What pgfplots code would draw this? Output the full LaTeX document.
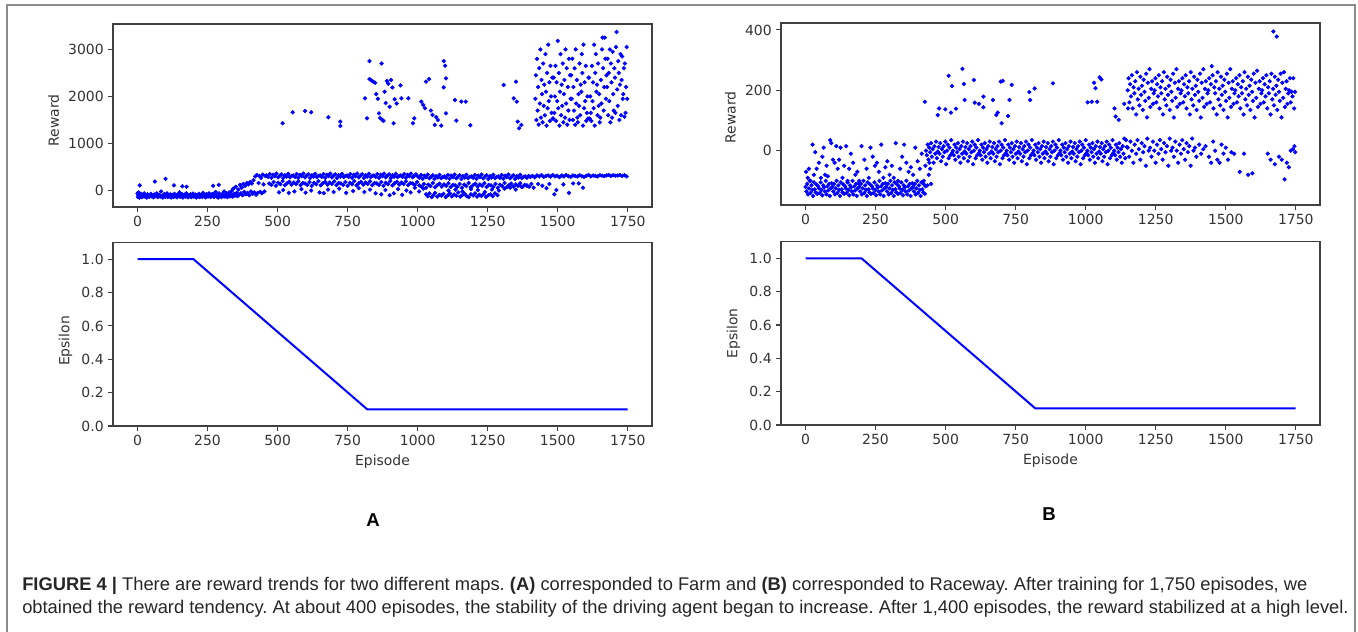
\documentclass[border=0pt]{standalone}
\usepackage{fontspec}
\setmainfont{Liberation Sans}
\newfontfamily\mpl{DejaVu Sans}
\usepackage{pgfplots}
\pgfplotsset{compat=1.18}

\pgfplotsset{
  mplaxis/.style={
    scale only axis, width=404.25bp, anchor=south west,
    axis line style={draw=black!75, line width=0.9bp},
    tick pos=left, tick align=outside, major tick length=3.5bp,
    tick style={draw=black!75, line width=0.8bp},
    /pgf/number format/assume math mode=true,
    /pgf/number format/1000 sep={},
    scaled ticks=false,
    every tick label/.append style={font=\mpl\fontsize{10.5}{12}\selectfont, text=black!80},
    label style={font=\mpl\fontsize{10.5}{12}\selectfont, text=black!80},
    xmin=-87.45, xmax=1836.45,
    xtick={0,250,500,750,1000,1250,1500,1750},
  },
  epsaxis/.style={
    mplaxis, ymin=0, ymax=1.1, ytick={0,0.2,0.4,0.6,0.8,1.0},
    yticklabel style={/pgf/number format/.cd, fixed, fixed zerofill, precision=1},
    xlabel={Episode}, ylabel={Epsilon},
  },
  rew/.style={only marks, mark=*, mark size=1.4bp, color=blue, mark options={draw=none, fill=blue}},
}

\begin{document}
\frenchspacing
\begin{tikzpicture}
\useasboundingbox (0,0) rectangle (1018.5bp,474bp);
\draw[black!45, line width=1bp] (5.25bp,-2bp) -- (5.25bp,470.25bp) -- (1016.25bp,470.25bp) -- (1016.25bp,-2bp);

% ---- A: Farm, reward
\begin{axis}[mplaxis, at={(84.75bp,318.75bp)}, height=137.25bp,
  ymin=-350, ymax=3540, ytick={0,1000,2000,3000}, ylabel={Reward},
  ylabel style={xshift=-3.5bp}]
% early cluster and ramp
\addplot[rew] coordinates {
(0,-60)(2,-140)(3,-100)(4,-40)(5,-120)(6,-80)(7,-150)(8,110)(9,-90)(10,-130)(12,-70)(14,-110)(16,-140)(18,-90)(21,-120)(24,-60)
(27,-130)(30,-100)(33,-150)(36,-80)(39,-115)(42,-135)(45,-95)(48,-70)(51,-125)(54,-105)(57,-145)(60,-85)(62,190)(63,-120)(66,-100)(69,-60)
(72,-140)(75,-110)(78,-90)(81,-130)(84,-20)(87,-120)(90,-150)(93,-95)(96,-75)(99,-135)(100,250)(102,-110)(105,-60)(108,-140)(111,-100)(114,-125)
(117,-80)(120,-150)(123,-110)(126,-90)(129,-135)(130,110)(132,-70)(135,-120)(138,-100)(141,-145)(144,-85)(147,-115)(150,-40)(153,-135)(156,-100)(159,-75)
(160,90)(162,-150)(165,-120)(168,-90)(171,-130)(174,-60)(175,80)(177,-110)(180,-145)(183,-95)(186,-120)(189,-80)(192,-140)(195,-105)(198,-65)(201,-130)
(204,-115)(207,-85)(210,-150)(213,-100)(216,-125)(219,-70)(222,-140)(225,-110)(228,-90)(231,-135)(234,-50)(237,-120)(240,-100)(243,-145)(246,-80)(249,-115)
(252,-130)(255,-60)(258,-100)(261,-140)(264,-85)(267,-120)(270,100)(270,-70)(273,-135)(276,-105)(279,-30)(282,-125)(285,-90)(288,-150)(290,120)(291,-60)
(294,-115)(297,-100)(300,-140)(303,-75)(306,-120)(309,-20)(312,-130)(315,-95)(318,-60)(321,-140)(324,-110)(327,-40)(330,-125)(333,-90)(336,-10)(339,-130)
(342,40)(345,-70)(348,-110)(351,80)(354,-50)(357,-120)(360,20)(363,-90)(366,120)(369,-60)(372,60)(375,-100)(378,140)(381,-30)(384,100)(387,-80)
(390,160)(393,-50)(396,130)(399,-100)(402,180)(405,-20)(408,150)(411,-70)(414,220)(417,-40)(420,300)(423,-90)(426,330)(429,-50)(432,160)(435,310)
(438,-30)(441,270)(444,-60)(447,340)(450,130)(453,-20)(456,310)
};
% upper band
\addplot[rew] coordinates {
(460,320)(466,290)(472,350)(478,270)(484,335)(490,305)(496,360)(502,280)(508,315)(514,345)(520,265)(526,325)(532,295)(538,355)(544,285)(550,310)
(556,320)(562,290)(568,350)(574,270)(580,335)(586,305)(592,360)(598,280)(604,315)(610,345)(616,265)(622,325)(628,295)(634,355)(640,285)(646,310)
(652,320)(658,290)(664,350)(670,270)(676,335)(682,305)(688,360)(694,280)(700,315)(706,345)(712,265)(718,325)(724,295)(730,355)(736,285)(742,310)
(748,320)(754,290)(760,350)(766,270)(772,335)(778,305)(784,360)(790,280)(796,315)(802,345)(808,265)(814,325)(820,295)(826,355)(832,285)(838,310)
(844,320)(850,290)(856,350)(862,270)(868,335)(874,305)(880,360)(886,280)(892,315)(898,345)(904,265)(910,325)(916,295)(922,355)(928,285)(934,310)
(940,320)(946,290)(952,350)(958,270)(964,335)(970,305)(976,360)(982,280)(988,315)(994,345)
(1000,300)(1006,270)(1012,330)(1018,250)(1024,315)(1030,285)(1036,340)(1042,260)(1048,295)(1054,325)(1060,245)(1066,305)(1072,275)(1078,335)(1084,265)(1090,290)
(1096,300)(1102,270)(1108,330)(1114,250)(1120,315)(1126,285)(1132,340)(1138,260)(1144,295)(1150,325)(1156,245)(1162,305)(1168,275)(1174,335)(1180,265)(1186,290)
(1192,300)(1198,270)(1204,330)(1210,250)(1216,315)(1222,285)(1228,340)(1234,260)(1240,295)(1246,325)(1252,245)(1258,305)(1264,275)(1270,335)(1276,265)(1282,290)
(1288,300)(1294,270)(1300,330)(1306,250)(1312,315)(1318,285)(1324,340)(1330,260)(1336,295)(1342,325)(1348,245)(1354,305)(1360,275)(1366,335)(1372,265)(1378,290)
(1384,300)(1390,270)(1396,310)
(1402,290)(1410,310)(1418,280)(1426,320)(1434,300)(1442,330)(1450,290)(1458,310)(1466,320)(1474,295)(1482,330)(1490,300)(1498,315)(1506,285)(1514,320)(1522,300)
(1530,330)(1538,305)(1546,290)(1554,320)(1562,310)(1570,300)(1578,325)(1586,305)(1594,290)(1602,315)(1610,330)(1618,300)(1626,320)(1634,310)(1642,300)(1650,325)
(1658,315)(1666,305)(1674,320)(1682,330)(1690,310)(1698,325)(1706,315)(1714,320)(1722,330)(1730,310)(1738,325)(1746,300)
};
% middle band
\addplot[rew] coordinates {
(470,150)(478,120)(486,180)(494,100)(502,165)(510,135)(518,200)(526,110)(534,155)(542,185)(550,125)(558,170)(566,140)(574,195)(582,115)(590,160)
(598,150)(606,120)(614,180)(622,100)(630,165)(638,135)(646,200)(654,110)(662,155)(670,185)(678,125)(686,170)(694,140)(702,195)(710,115)(718,160)
(726,150)(734,120)(742,180)(750,100)(758,165)(766,135)(774,200)(782,110)(790,155)(798,185)(806,125)(814,170)(822,140)(830,195)(838,115)(846,160)
(854,150)(862,120)(870,180)(878,100)(886,165)(894,135)(902,200)(910,110)(918,155)(926,185)(934,125)(942,170)(950,140)(958,195)(966,115)(974,160)
(982,150)(990,120)(998,180)
(1006,110)(1014,80)(1022,140)(1030,60)(1038,125)(1046,95)(1054,160)(1062,70)(1070,115)(1078,145)(1086,85)(1094,130)(1102,100)(1110,155)(1118,75)(1126,120)
(1134,110)(1142,80)(1150,140)(1158,60)(1166,125)(1174,95)(1182,160)(1190,70)(1198,115)(1206,145)(1214,85)(1222,130)(1230,100)(1238,155)(1246,75)(1254,120)
(1262,110)(1270,80)(1278,140)(1286,60)(1294,125)(1302,95)(1310,160)(1318,70)(1326,115)(1334,145)(1342,85)(1350,130)(1358,100)(1366,155)(1374,75)(1382,120)
(1390,110)(1398,80)(1406,140)(1414,60)
};
% lower band and bottom strip
\addplot[rew] coordinates {
(505,-40)(520,10)(540,-50)(560,-20)(585,30)(600,-45)(620,0)(650,-40)(665,-55)(680,20)(700,-30)(720,40)(745,-50)(770,-10)(790,50)(810,-30)
(830,20)(850,-60)(870,-80)(885,10)(900,-100)(915,-60)(930,30)(945,-90)(960,0)(975,-40)(990,60)(1005,-20)(1020,40)
(1030,-80)(1036,-120)(1042,-60)(1050,-140)(1056,-100)(1062,-50)(1070,-130)(1078,-90)(1085,-110)(1092,-70)(1100,-140)(1108,-100)(1115,-60)(1122,-125)(1130,-85)(1138,-110)
(1145,-40)(1152,-130)(1160,-95)(1168,-70)(1175,-120)(1182,-140)(1190,-80)(1198,-105)(1205,-60)(1212,-130)(1220,-90)(1228,-115)(1236,-70)(1244,-135)(1252,-100)(1260,-80)
(1268,-120)(1276,-60)(1285,-100)
(1110,0)(1135,20)(1160,-20)(1190,30)(1215,10)(1240,-30)(1265,20)(1290,0)(1310,40)(1330,60)(1350,20)(1370,80)(1390,100)
(1430,140)(1445,100)(1460,50)(1470,140)(1488,-80)(1495,10)(1520,130)(1540,-50)(1555,150)(1575,150)(1590,60)
};
% high rewards
\addplot[rew] coordinates {
(518,1430)(554,1663)(598,1690)(620,1663)(681,1557)(724,1465)(724,1373)(812,1960)(819,1535)(828,2752)(828,2370)(835,2340)(842,2310)(848,2290)(852,2050)(858,1950)
(862,1640)(866,1540)(871,2700)(874,1500)(878,1480)(882,2100)(886,1860)(890,2330)(895,2270)(900,1780)(905,2350)(910,2190)(914,1430)(918,1940)(925,1850)(939,2235)
(942,1960)(967,1960)(983,1430)(988,1535)(1013,1890)(1020,1820)(1026,1750)(1030,2315)(1041,2370)(1047,1700)(1053,1606)(1061,1394)(1066,1560)(1072,1500)(1084,1380)(1093,2752)
(1098,2653)(1093,2193)(1101,2385)(1101,1640)(1133,1925)(1138,1486)(1156,1890)(1172,1890)(1188,1387)(1307,2243)(1343,1960)(1351,2313)(1354,1890)(1357,1464)(1362,1323)(1370,1394)
(1420,1950)(1422,2450)(1424,1500)(1426,2800)(1428,1700)(1430,2200)(1432,1400)(1434,2600)(1436,1850)(1438,3000)(1440,1550)(1442,2350)(1444,2050)(1446,1450)(1448,2700)(1450,1800)
(1452,2250)(1454,1600)(1456,2900)(1458,2100)(1460,1380)(1462,2500)(1464,1750)(1466,3100)(1468,1900)(1470,2300)(1472,1480)(1474,2650)(1476,2000)(1478,1650)(1480,2400)(1482,1530)
(1484,1530)(1486,2400)(1488,1650)(1490,2000)(1492,2650)(1494,1480)(1496,2300)(1498,1900)(1500,3180)(1502,1750)(1504,2500)(1506,1380)(1508,2100)(1510,2900)(1512,1600)(1514,2250)
(1516,1800)(1518,2700)(1520,1450)(1522,2050)(1524,2350)(1526,1550)(1528,3000)(1530,1850)(1532,2600)(1534,1400)(1536,2200)(1538,1700)(1540,2800)(1542,1500)(1544,2450)(1546,1950)
(1548,2450)(1550,1950)(1552,2800)(1554,1500)(1556,2200)(1558,1700)(1560,2600)(1562,1400)(1564,3000)(1566,1850)(1568,2350)(1570,1550)(1572,1450)(1574,2050)(1576,1800)(1578,2700)
(1580,1600)(1582,2250)(1584,2100)(1586,2900)(1588,2500)(1590,1380)(1592,3100)(1594,1750)(1596,2300)(1598,1900)(1600,2650)(1602,1480)(1604,1650)(1606,2000)(1608,1530)(1610,2400)
(1612,2400)(1614,1530)(1616,2000)(1618,1650)(1620,1480)(1622,2650)(1624,1900)(1626,2300)(1628,1750)(1630,3100)(1632,1380)(1634,2500)(1636,2900)(1638,2100)(1640,2250)(1642,1600)
(1644,2700)(1646,1800)(1648,2050)(1650,1450)(1652,1550)(1654,2350)(1656,1850)(1658,3000)(1660,3250)(1662,2600)(1664,1700)(1666,2200)(1668,3250)(1670,2800)(1672,1950)(1674,2450)
(1676,2200)(1678,2800)(1680,1600)(1682,2500)(1684,1900)(1686,3000)(1688,1450)(1690,2700)(1692,2300)(1694,1550)(1696,2950)(1698,2050)(1700,1700)(1702,2600)(1704,2400)(1706,1650)
(1708,3050)(1710,3370)(1712,2150)(1714,1800)(1716,2750)(1718,2500)(1720,1500)(1722,2250)(1724,2900)(1726,1600)(1728,2350)(1730,2850)(1732,1950)(1734,2050)(1736,2600)(1738,1570)
(1740,2700)(1742,1650)(1744,2200)(1746,3050)(1748,1950)
};
\end{axis}

% ---- A: Farm, epsilon
\begin{axis}[epsaxis, at={(84.75bp,154.5bp)}, height=137.6bp, ylabel style={xshift=-5bp}]
\addplot[blue, line width=1.5bp] coordinates {(0,1)(200,1)(820,0.1)(1749,0.1)};
\end{axis}

% ---- B: Raceway, reward
\begin{axis}[mplaxis, at={(585.75bp,320.25bp)}, height=136.5bp,
  ymin=-180, ymax=423, ytick={0,200,400}, ylabel={Reward},
  ylabel style={xshift=-2.5bp}]
% early dense band
\addplot[rew] coordinates {
(0,-120)(3,-135)(6,-110)(9,-145)(12,-125)(15,-100)(18,-140)(21,-115)(24,-130)(27,-150)(30,-105)(33,-128)(36,-138)(39,-112)(42,-143)(45,-118)
(48,-125)(51,-140)(54,-105)(57,-130)(60,-148)(63,-115)(66,-122)(69,-135)(72,-100)(75,-145)(78,-118)(81,-132)(84,-110)(87,-150)(90,-125)(93,-108)
(96,-120)(99,-135)(102,-110)(105,-145)(108,-125)(111,-100)(114,-140)(117,-115)(120,-130)(123,-150)(126,-105)(129,-128)(132,-138)(135,-112)(138,-143)(141,-118)
(144,-125)(147,-140)(150,-105)(153,-130)(156,-148)(159,-115)(162,-122)(165,-135)(168,-100)(171,-145)(174,-118)(177,-132)(180,-110)(183,-150)(186,-125)(189,-108)
(192,-120)(195,-135)(198,-110)(201,-145)(204,-125)(207,-100)(210,-140)(213,-115)(216,-130)(219,-150)(222,-105)(225,-128)(228,-138)(231,-112)(234,-143)(237,-118)
(240,-125)(243,-140)(246,-105)(249,-130)(252,-148)(255,-115)(258,-122)(261,-135)(264,-100)(267,-145)(270,-118)(273,-132)(276,-110)(279,-150)(282,-125)(285,-108)
(288,-120)(291,-135)(294,-110)(297,-145)(300,-125)(303,-100)(306,-140)(309,-115)(312,-130)(315,-150)(318,-105)(321,-128)(324,-138)(327,-112)(330,-143)(333,-118)
(336,-125)(339,-140)(342,-105)(345,-130)(348,-148)(351,-115)(354,-122)(357,-135)(360,-100)(363,-145)(366,-118)(369,-132)(372,-110)(375,-150)(378,-125)(381,-108)
(384,-120)(387,-135)(390,-110)(393,-145)(396,-125)(399,-100)(402,-140)(405,-115)(408,-130)(411,-150)(414,-105)(417,-128)(420,-138)(423,-112)(426,-143)(429,-118)
};
% early scattered
\addplot[rew] coordinates {
(2,-70)(8,-90)(12,-60)(18,-100)(25,20)(30,-80)(35,-5)(40,-60)(48,-40)(55,-90)(60,-20)(65,10)(70,-80)(75,-50)(80,-85)(88,35)
(92,25)(98,-30)(104,-40)(110,15)(115,-60)(120,-30)(125,10)(132,-90)(138,-50)(145,15)(150,-100)(156,-60)(162,-10)(170,-40)(178,-80)(185,-70)
(192,-100)(200,15)(210,-30)(218,-60)(226,-90)(232,10)(240,-20)(248,-50)(255,-40)(262,-70)(270,20)(278,-90)(285,-55)(292,-35)(300,-80)(308,-50)
(315,-90)(322,25)(330,-100)(338,-60)(345,-20)(352,20)(360,-40)(368,-70)(376,-55)(384,-80)(392,10)(400,-35)(408,-60)(415,-10)(422,-100)(428,-50)
(435,-115)(440,-80)(442,-40)(445,-60)(448,-110)
};
% zero band
\addplot[rew] coordinates {
(430,0)(433,-15)(436,20)(439,-30)(442,10)(445,-5)(448,25)(451,-20)(454,5)(457,-40)(460,15)(463,-10)(466,30)(469,-25)(472,-3)(475,12)
(478,-10)(481,25)(484,-35)(487,5)(490,-20)(493,15)(496,-5)(499,30)(502,-45)(505,0)(508,20)(511,-25)(514,10)(517,-15)(520,35)(523,-8)
(526,0)(529,-15)(532,20)(535,-30)(538,10)(541,-5)(544,25)(547,-20)(550,5)(553,-40)(556,15)(559,-10)(562,30)(565,-25)(568,-3)(571,12)
(574,-10)(577,25)(580,-35)(583,5)(586,-20)(589,15)(592,-5)(595,30)(598,-45)(601,0)(604,20)(607,-25)(610,10)(613,-15)(616,35)(619,-8)
(622,0)(625,-15)(628,20)(631,-30)(634,10)(637,-5)(640,25)(643,-20)(646,5)(649,-40)(652,15)(655,-10)(658,30)(661,-25)(664,-3)(667,12)
(670,-10)(673,25)(676,-35)(679,5)(682,-20)(685,15)(688,-5)(691,30)(694,-45)(697,0)(700,20)(703,-25)(706,10)(709,-15)(712,35)(715,-8)
(718,0)(721,-15)(724,20)(727,-30)(730,10)(733,-5)(736,25)(739,-20)(742,5)(745,-40)(748,15)(751,-10)(754,30)(757,-25)(760,-3)(763,12)
(766,-10)(769,25)(772,-35)(775,5)(778,-20)(781,15)(784,-5)(787,30)(790,-45)(793,0)(796,20)(799,-25)(802,10)(805,-15)(808,35)(811,-8)
(814,0)(817,-15)(820,20)(823,-30)(826,10)(829,-5)(832,25)(835,-20)(838,5)(841,-40)(844,15)(847,-10)(850,30)(853,-25)(856,-3)(859,12)
(862,-10)(865,25)(868,-35)(871,5)(874,-20)(877,15)(880,-5)(883,30)(886,-45)(889,0)(892,20)(895,-25)(898,10)(901,-15)(904,35)(907,-8)
(910,0)(913,-15)(916,20)(919,-30)(922,10)(925,-5)(928,25)(931,-20)(934,5)(937,-40)(940,15)(943,-10)(946,30)(949,-25)(952,-3)(955,12)
(958,-10)(961,25)(964,-35)(967,5)(970,-20)(973,15)(976,-5)(979,30)(982,-45)(985,0)(988,20)(991,-25)(994,10)(997,-15)(1000,35)(1003,-8)
(1006,0)(1009,-15)(1012,20)(1015,-30)(1018,10)(1021,-5)(1024,25)(1027,-20)(1030,5)(1033,-40)(1036,15)(1039,-10)(1042,30)(1045,-25)(1048,-3)(1051,12)
(1054,-10)(1057,25)(1060,-35)(1063,5)(1066,-20)(1069,15)(1072,-5)(1075,30)(1078,-45)(1081,0)(1084,20)(1087,-25)(1090,10)(1093,-15)(1096,35)(1099,-8)
(1102,0)(1105,-15)(1108,20)(1111,-30)(1114,10)(1117,-5)(1120,25)(1123,-20)(1126,5)(1129,-40)(1132,15)(1135,-10)(1138,40)(1141,-25)(1144,35)(1147,12)
(1150,10)(1155,-20)(1160,30)(1165,0)(1170,-40)(1175,20)(1180,-10)(1185,35)(1190,5)(1195,-30)(1200,25)(1205,-5)(1210,15)(1215,-50)(1220,40)(1225,0)
(1230,10)(1235,-20)(1240,30)(1245,0)(1250,-40)(1255,20)(1260,-10)(1265,35)(1270,5)(1275,-30)(1280,25)(1285,-5)(1290,15)(1295,-50)(1300,40)(1305,0)
(1310,10)(1315,-20)(1320,30)(1325,0)(1330,-40)(1335,20)(1340,-10)(1345,35)(1350,5)(1355,-30)(1360,25)(1365,-5)(1370,15)(1375,-50)(1380,40)(1385,0)
(1390,10)(1395,-20)
(1405,20)(1412,-10)(1420,5)(1428,15)(1440,-20)(1448,-40)(1455,30)(1462,0)(1470,-30)(1478,-40)(1485,20)(1492,-10)(1500,10)(1508,-30)(1520,-5)(1530,-10)
(1550,-70)(1565,-10)(1580,-80)(1595,-75)(1650,-10)(1660,-30)(1675,-45)(1690,-20)(1700,-30)(1710,-95)(1718,-40)(1725,-55)(1732,0)(1740,5)(1745,15)(1748,-5)
};
% high points
\addplot[rew] coordinates {
(426,162)(472,118)(477,140)(499,137)(511,248)(523,214)(519,126)(537,139)(560,271)(568,168)(565,221)(601,234)(604,159)(619,155)(635,179)(635,144)
(669,168)(681,118)(686,126)(697,229)(700,91)(704,231)(723,115)(728,168)(736,218)(799,194)(802,168)(818,206)(883,223)(1007,160)(1022,162)(1030,225)
(1035,207)(1041,162)(1050,243)(1056,236)(1103,140)(1107,113)(1118,102)(1138,155)(1151,140)(1670,395)(1682,378)
(1150,200)(1153,240)(1156,160)(1159,220)(1162,180)(1165,250)(1168,140)(1171,210)(1174,190)(1177,230)(1180,120)(1183,260)(1186,170)(1189,205)(1192,150)(1195,245)
(1198,185)(1201,215)(1204,135)(1207,235)(1210,195)(1213,165)(1216,255)(1219,110)(1222,225)(1225,175)(1228,270)(1231,145)(1234,205)(1237,230)(1240,155)(1243,190)
(1246,200)(1249,240)(1252,160)(1255,220)(1258,180)(1261,250)(1264,140)(1267,210)(1270,190)(1273,230)(1276,120)(1279,260)(1282,170)(1285,205)(1288,150)(1291,245)
(1294,185)(1297,215)(1300,135)(1303,235)(1306,195)(1309,165)(1312,255)(1315,110)(1318,225)(1321,175)(1324,270)(1327,145)(1330,205)(1333,230)(1336,155)(1339,190)
(1342,200)(1345,240)(1348,160)(1351,220)(1354,180)(1357,250)(1360,140)(1363,210)(1366,190)(1369,230)(1372,120)(1375,260)(1378,170)(1381,205)(1384,150)(1387,245)
(1390,185)(1393,215)(1396,135)(1399,235)(1402,195)(1405,165)(1408,255)(1411,110)(1414,225)(1417,175)(1420,270)(1423,145)(1426,205)(1429,230)(1432,155)(1435,190)
(1438,200)(1441,240)(1444,160)(1447,220)(1450,280)(1453,250)(1456,140)(1459,210)(1462,190)(1465,230)(1468,120)(1471,260)(1474,170)(1477,205)(1480,150)(1483,245)
(1486,185)(1489,215)(1492,135)(1495,235)(1498,195)(1501,165)(1504,255)(1507,110)(1510,225)(1513,175)(1516,270)(1519,145)(1522,205)(1525,230)(1528,155)(1531,190)
(1534,200)(1537,240)(1540,160)(1543,220)(1546,180)(1549,250)(1552,140)(1555,210)(1558,190)(1561,230)(1564,120)(1567,260)(1570,170)(1573,205)(1576,150)(1579,245)
(1582,185)(1585,215)(1588,135)(1591,235)(1594,195)(1597,165)(1600,255)(1603,110)(1606,225)(1609,175)(1612,265)(1615,145)(1618,205)(1621,230)(1624,155)(1627,190)
(1630,200)(1633,240)(1636,160)(1639,220)(1642,180)(1645,250)(1648,140)(1651,210)(1654,190)(1657,230)(1660,120)(1663,255)(1666,170)(1669,205)(1672,150)(1675,245)
(1678,185)(1681,215)(1684,135)(1687,235)(1690,195)(1693,165)(1696,255)(1699,110)(1702,225)(1705,175)(1708,260)(1711,145)(1714,205)(1717,230)(1720,155)(1723,190)
(1726,200)(1729,240)(1732,160)(1735,195)(1738,180)(1741,240)(1744,140)(1747,195)
};
\end{axis}

% ---- B: Raceway, epsilon
\begin{axis}[epsaxis, at={(585.75bp,155.25bp)}, height=137.5bp]
\addplot[blue, line width=1.5bp] coordinates {(0,1)(200,1)(820,0.1)(1749,0.1)};
\end{axis}

\node[font=\bfseries\fontsize{14}{16}\selectfont] at (279.75bp,84bp) {A};
\node[font=\bfseries\fontsize{14}{16}\selectfont] at (786.75bp,88.5bp) {B};

\node[anchor=base west, font=\fontsize{13.8}{16}\selectfont, text=black!85, inner sep=0pt] at (16.5bp,31.5bp)
  {\textbf{FIGURE 4 |} There are reward trends for two different maps. \textbf{(A)} corresponded to Farm and \textbf{(B)} corresponded to Raceway. After training for 1,750 episodes, we};
\node[anchor=base west, font=\fontsize{13.8}{16}\selectfont, text=black!85, inner sep=0pt] at (16.5bp,14.25bp)
  {obtained the reward tendency. At about 400 episodes, the stability of the driving agent began to increase. After 1,400 episodes, the reward stabilized at a high level.};
\end{tikzpicture}
\end{document}
